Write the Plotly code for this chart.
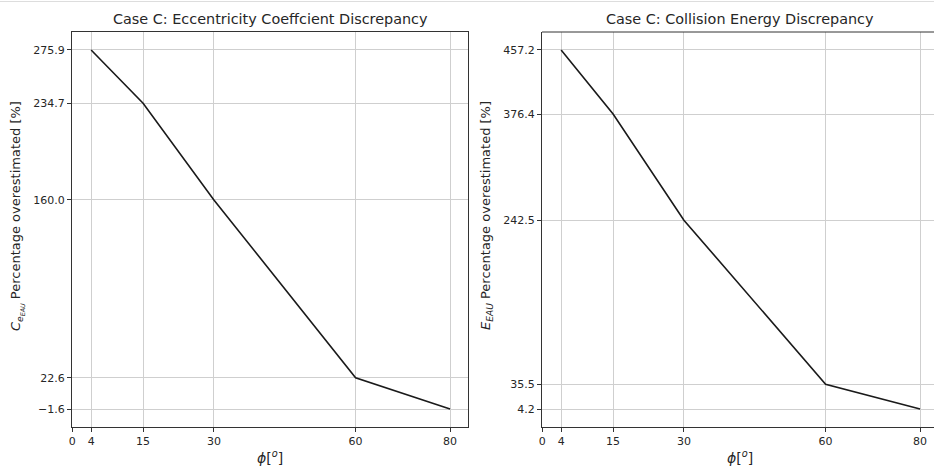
import plotly.graph_objects as go

phi = [4, 15, 30, 60, 80]
ecc_disc = [275.9, 234.7, 160.0, 22.6, -1.6]
energy_disc = [457.2, 376.4, 242.5, 35.5, 4.2]
x_ticks = [0, 4, 15, 30, 60, 80]
titles = ["Case C: Eccentricity Coeffcient Discrepancy", "Case C: Collision Energy Discrepancy"]
ytitles = ["<i>C</i><sub><i>e</i><sub><i>EAU</i></sub></sub> Percentage overestimated [%]",
           "<i>E</i><sub><i>EAU</i></sub> Percentage overestimated [%]"]
xtitle = "<i>ϕ</i>[<sup><i>o</i></sup>]"

W, H = 934, 470
L1, R1, L2 = 72, 468, 542
T, B = 32, 427
FONT = "DejaVu Sans"
TXT = "#262626"

def fmt(v):
    return f"{v:.1f}".replace("-", "\u2212")

def span(vals):
    lo, hi = min(vals), max(vals)
    m = 0.05 * (hi - lo)
    return [lo - m, hi + m]

fig = go.Figure()
fig.add_trace(go.Scatter(x=phi, y=ecc_disc, mode="lines", line=dict(color="#1a1a1a", width=1.6),
                         xaxis="x", yaxis="y", showlegend=False))
fig.add_trace(go.Scatter(x=phi, y=energy_disc, mode="lines", line=dict(color="#1a1a1a", width=1.6),
                         xaxis="x2", yaxis="y2", showlegend=False))

xs = span(phi)
x0 = min(x_ticks[0], xs[0]) - 0.05
xr = [x0, xs[1]]
px_per_unit = (R1 - L1) / (xr[1] - xr[0])
x2_end = x0 + (W - L2) / px_per_unit

common_axis = dict(showline=True, linecolor="#333333", linewidth=1, ticks="outside", ticklen=4,
                   tickwidth=1, tickcolor="#333333", showgrid=True, gridcolor="#cfcfcf", gridwidth=1,
                   zeroline=False, automargin=False, tickfont=dict(family=FONT, size=11, color=TXT))

ymid = (B - 216) / (B - T)

fig.update_layout(
    width=W, height=H, plot_bgcolor="white", paper_bgcolor="white",
    margin=dict(l=0, r=0, t=T, b=H - B),
    xaxis=dict(domain=[L1 / W, R1 / W], range=xr, tickvals=x_ticks, ticktext=[str(t) for t in x_ticks],
               mirror=True, anchor="y", **common_axis),
    yaxis=dict(domain=[0, 1], range=span(ecc_disc), tickvals=ecc_disc, ticktext=[fmt(v) for v in ecc_disc],
               mirror=True, anchor="x", **common_axis),
    xaxis2=dict(domain=[L2 / W, 1.0], range=[x0, x2_end], tickvals=x_ticks,
                ticktext=[str(t) for t in x_ticks], mirror=False, anchor="y2", **common_axis),
    yaxis2=dict(domain=[0, 1], range=span(energy_disc), tickvals=energy_disc,
                ticktext=[fmt(v) for v in energy_disc], mirror=False, anchor="x2", **common_axis),
    annotations=[
        dict(text=titles[0], x=(L1 + R1) / 2 / W, y=1, xref="paper", yref="paper", xanchor="center",
             yanchor="bottom", yshift=3, showarrow=False, font=dict(family=FONT, size=14.4, color=TXT)),
        dict(text=titles[1], x=(L2 + L2 + (R1 - L1)) / 2 / W, y=1, xref="paper", yref="paper", xanchor="center",
             yanchor="bottom", yshift=3, showarrow=False, font=dict(family=FONT, size=14.4, color=TXT)),
        dict(text=xtitle, x=(L1 + R1) / 2 / W, y=0, xref="paper", yref="paper", xanchor="center",
             yanchor="top", yshift=-19, showarrow=False, font=dict(family=FONT, size=14, color=TXT)),
        dict(text=xtitle, x=(L2 + L2 + (R1 - L1)) / 2 / W, y=0, xref="paper", yref="paper", xanchor="center",
             yanchor="top", yshift=-19, showarrow=False, font=dict(family=FONT, size=14, color=TXT)),
        dict(text=ytitles[0], x=17 / W, y=ymid, xref="paper", yref="paper", xanchor="center",
             yanchor="middle", textangle=-90, showarrow=False, font=dict(family=FONT, size=13, color=TXT)),
        dict(text=ytitles[1], x=(L2 - 56) / W, y=ymid, xref="paper", yref="paper", xanchor="center",
             yanchor="middle", textangle=-90, showarrow=False, font=dict(family=FONT, size=13, color=TXT)),
    ],
    shapes=[
        dict(type="line", xref="x2", yref="paper", x0=x0, x1=x2_end, y0=1, y1=1,
             line=dict(color="#333333", width=1)),
        dict(type="line", xref="paper", yref="paper", x0=0, x1=1, y0=1 + 30.5 / (B - T), y1=1 + 30.5 / (B - T),
             line=dict(color="#dddddd", width=1)),
    ],
)

fig.write_html("out.html", config={"displayModeBar": False},
               post_script="document.body.style.margin='0px';document.body.style.overflow='hidden';")
